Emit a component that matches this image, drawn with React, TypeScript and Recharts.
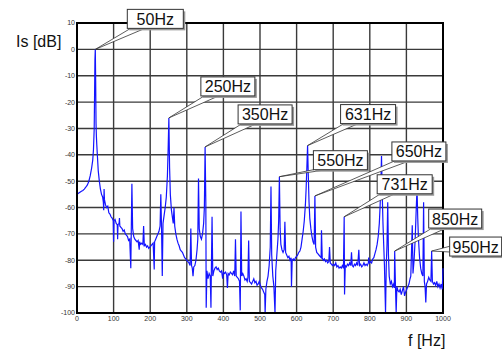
import React from 'react';
import { ComposedChart, Line, XAxis, YAxis, CartesianGrid, ReferenceDot, ReferenceArea } from 'recharts';

// spectrum, [frequency Hz, level dB]
const SPECTRUM_0_200: [number, number][] = [
  [0, -55], [4, -54.6], [8, -54.2], [12, -53.8], [16, -53.5], [20, -53], [24, -52.3], [28, -51.5],
  [32, -50.2], [36, -48], [40, -45], [43, -42], [45, -38], [47, -30], [48, -18], [49, -4], [50, 0],
  [51, -12], [52, -28], [53, -33], [54, -36], [56, -41], [58, -46], [61, -50], [64, -53], [67, -55],
  [70, -56], [72, -58], [73, -61], [74, -53], [75, -57], [78, -59], [81, -60], [84, -59.5], [87, -62],
  [90, -62.5], [93, -63.5], [96, -64], [99, -65], [100, -73], [101, -65], [104, -64.5], [107, -66],
  [110, -66.5], [111, -72], [112, -66.5], [115, -66], [116, -64], [117, -67], [120, -67.5], [123, -68],
  [126, -69], [129, -68.5], [132, -70], [135, -70.5], [138, -71], [141, -72.5], [144, -72], [147, -83],
  [148, -72], [150, -51], [152, -68], [155, -71], [158, -72], [161, -72.5], [164, -73], [167, -72.5],
  [170, -76], [171, -73], [174, -74], [177, -73.5], [180, -74], [182, -67], [184, -74.5], [187, -74],
  [190, -75], [193, -74.5], [196, -75.5], [199, -75],
];

const SPECTRUM_200_400: [number, number][] = [
  [202, -74.5], [205, -74], [208, -73.5], [211, -83.5], [212, -73], [215, -72], [218, -71], [221, -70],
  [224, -69], [227, -67], [229, -55], [231, -68], [233, -86], [235, -66], [238, -63], [241, -60],
  [244, -56], [247, -48], [249, -38], [251, -26], [253, -45], [255, -55], [258, -61], [261, -64],
  [263, -66], [265, -60], [267, -67], [270, -70], [273, -72], [276, -73.5], [279, -74.5], [282, -76],
  [285, -76.5], [288, -77], [291, -78], [294, -79], [297, -79.5], [300, -80], [303, -80.5], [306, -81],
  [309, -82], [311, -68], [313, -82], [315, -83], [317, -86], [319, -82.5], [322, -82], [325, -80],
  [328, -76], [330, -72], [332, -49], [334, -68], [337, -71], [340, -72], [343, -70], [346, -66],
  [348, -60], [350, -37], [352, -58], [353, -98], [355, -84], [358, -87], [361, -85], [364, -86],
  [366, -98], [367, -85], [369, -63.5], [371, -86], [374, -84], [377, -83], [380, -82.5], [383, -83.5],
  [386, -83], [389, -84], [392, -84.5], [395, -84], [398, -87], [400, -84.5],
];

const SPECTRUM_400_600: [number, number][] = [
  [403, -85], [406, -84.5], [409, -85.5], [411, -90.5], [413, -85], [416, -85.5], [419, -84.5],
  [422, -85], [425, -85.5], [428, -84], [431, -86], [433, -72], [435, -86], [438, -86.5], [441, -87],
  [444, -88], [446, -99], [448, -61.5], [450, -86], [453, -85], [456, -86], [459, -87.5], [462, -87],
  [465, -88], [467, -86.5], [469, -72.5], [471, -88], [474, -88.5], [477, -89], [480, -88], [483, -87],
  [486, -88.5], [489, -88], [492, -89.5], [495, -89], [498, -88], [501, -89.5], [504, -90.5], [507, -91],
  [510, -92], [513, -93], [514, -100], [516, -91], [519, -88], [522, -86], [525, -82], [528, -75],
  [530, -52], [532, -78], [535, -86], [538, -90], [541, -100], [543, -84], [546, -78], [549, -72],
  [551, -65], [553, -48.3], [555, -68], [557, -74], [560, -76], [563, -77], [566, -76], [568, -65.4],
  [570, -77], [573, -78], [576, -79], [579, -78.5], [582, -80], [585, -79], [586, -90], [588, -80],
  [591, -79.5], [594, -80], [597, -79], [600, -78.5],
];

const SPECTRUM_600_800: [number, number][] = [
  [603, -78], [606, -77], [609, -76.5], [612, -75], [615, -72], [618, -69], [621, -65], [624, -59],
  [626, -53], [628, -45], [630, -36.5], [632, -48], [634, -58], [636, -64], [639, -68], [642, -71],
  [645, -73], [648, -74], [650, -55.6], [652, -75], [655, -77], [658, -77.5], [661, -78], [664, -78.5],
  [667, -79], [668, -68.6], [670, -79], [673, -80], [676, -79.5], [679, -80.5], [682, -80], [685, -81],
  [688, -80.5], [690, -75], [692, -81], [695, -81.5], [698, -82], [701, -81.5], [704, -82], [707, -81],
  [710, -82.5], [713, -82], [716, -83], [719, -82.5], [722, -83], [725, -82], [728, -83], [730, -63.5],
  [731, -93], [733, -82], [736, -82.5], [739, -81.5], [742, -82], [745, -81], [748, -82], [750, -77],
  [752, -82], [755, -82.5], [758, -81.5], [761, -82], [764, -81], [767, -82], [770, -76], [772, -82],
  [775, -81.5], [778, -82.5], [781, -82], [784, -81], [787, -82], [790, -81.5], [793, -82], [796, -81],
  [797, -79], [799, -81],
];

const SPECTRUM_800_1000: [number, number][] = [
  [802, -80.5], [805, -81], [808, -79.5], [811, -79], [814, -77.5], [817, -76], [820, -74], [823, -71],
  [826, -66], [828, -60], [830, -52], [832, -40.5], [834, -55], [836, -66], [838, -74], [840, -82],
  [843, -100], [845, -82], [847, -74], [849, -58], [851, -78], [853, -86], [856, -89], [859, -88],
  [862, -90], [865, -89], [867, -90.5], [868, -76.5], [870, -89], [872, -100], [874, -90], [877, -91.5],
  [880, -92], [883, -91], [886, -93], [889, -91.5], [892, -90], [895, -93.5], [898, -92], [901, -91],
  [904, -90], [907, -89], [910, -87], [912, -86], [916, -66.7], [918, -85], [921, -80], [924, -72],
  [926, -64], [929, -52.5], [931, -64], [933, -72], [936, -79], [939, -83], [942, -85], [945, -86],
  [947, -58], [949, -88], [951, -90], [953, -96], [955, -89], [958, -88], [961, -86.5], [964, -87.5],
  [967, -88], [969, -76.5], [971, -88], [974, -89], [977, -88.5], [980, -89.5], [983, -88], [986, -90],
  [989, -89], [992, -90.5], [995, -89], [998, -91], [1000, -83],
];

const X_TICKS = [0, 100, 200, 300, 400, 500, 600, 700, 800, 900, 1000];
const Y_TICKS = [-100, -90, -80, -70, -60, -50, -40, -30, -20, -10, 0, 10];

// labelled peaks
const PEAK_FREQS = [50, 251, 350, 553, 630, 650, 730, 868, 969];
const PEAK_LEVELS = [0, -26, -37, -48.3, -36.5, -55.6, -63.5, -76.5, -76.5];
const PEAK_LABELS = ['50Hz', '250Hz', '350Hz', '550Hz', '631Hz', '650Hz', '731Hz', '850Hz', '950Hz'];

// where each label box sits relative to its peak (px)
const BOX_LAYOUT = [
  { dx: 32, dy: -40, w: 56, side: 'bottom' },
  { dx: 32, dy: -41, w: 54, side: 'bottom' },
  { dx: 33, dy: -42, w: 54, side: 'bottom' },
  { dx: 34, dy: -26, w: 54, side: 'bottom' },
  { dx: 33, dy: -41, w: 55, side: 'bottom' },
  { dx: 77, dy: -54, w: 54, side: 'bottom' },
  { dx: 33, dy: -42, w: 55, side: 'bottom' },
  { dx: 34, dy: -42, w: 53, side: 'bottom' },
  { dx: 18, dy: -14, w: 52, side: 'left' },
];

const data = [
  ...SPECTRUM_0_200,
  ...SPECTRUM_200_400,
  ...SPECTRUM_400_600,
  ...SPECTRUM_600_800,
  ...SPECTRUM_800_1000,
].map(([f, db]) => ({ f, db }));

const FONT = 'Arial, "Liberation Sans", sans-serif';

function Callout({ cx, cy, label, layout }: any) {
  const h = 19;
  const bx = cx + layout.dx;
  const by = cy + layout.dy;
  const wedge =
    layout.side === 'left'
      ? `${cx},${cy} ${bx + 1},${by + h - 10} ${bx + 1},${by + h - 4}`
      : `${cx},${cy} ${bx + 5},${by + h - 1} ${bx + 20},${by + h - 1}`;
  return (
    <g>
      <polygon points={wedge} fill="#fff" stroke="#333" strokeWidth={0.8} />
      <rect x={bx + 2} y={by + 2} width={layout.w} height={h} fill="#9a9a9a" />
      <rect x={bx} y={by} width={layout.w} height={h} fill="#fff" stroke="#333" strokeWidth={1} />
      <text
        x={bx + layout.w / 2}
        y={by + h / 2 + 6}
        textAnchor="middle"
        fontSize={16}
        fontFamily={FONT}
        fill="#111"
      >
        {label}
      </text>
    </g>
  );
}

export default function App() {
  return (
    <div style={{ position: 'absolute', left: 0, top: 0, width: 502, height: 351, background: '#fff' }}>
      <ComposedChart
        width={502}
        height={351}
        data={data}
        margin={{ top: 23, right: 59, left: 0, bottom: 18 }}
        style={{ fontFamily: FONT }}
      >
        <CartesianGrid stroke="#3a3a3a" strokeWidth={1.4} />
        <XAxis
          type="number"
          dataKey="f"
          domain={[0, 1000]}
          ticks={X_TICKS}
          height={20}
          tickSize={0}
          tickMargin={3}
          axisLine={{ stroke: '#000', strokeWidth: 2 }}
          tick={{ fontSize: 7, fill: '#333' }}
        />
        <YAxis
          type="number"
          domain={[-100, 10]}
          ticks={Y_TICKS}
          width={77}
          tickSize={0}
          tickMargin={2}
          axisLine={{ stroke: '#000', strokeWidth: 2 }}
          tick={{ fontSize: 7, fill: '#333' }}
        />
        <ReferenceArea x1={0} x2={1000} y1={-100} y2={10} fill="none" stroke="#000" strokeWidth={2} ifOverflow="visible" />
        <Line
          type="linear"
          dataKey="db"
          stroke="#1414ff"
          strokeWidth={1.2}
          dot={false}
          isAnimationActive={false}
        />
        {PEAK_FREQS.map((f, i) => (
          <ReferenceDot
            key={PEAK_LABELS[i]}
            x={f}
            y={PEAK_LEVELS[i]}
            ifOverflow="visible"
            shape={(p: any) => <Callout cx={p.cx} cy={p.cy} label={PEAK_LABELS[i]} layout={BOX_LAYOUT[i]} />}
          />
        ))}
      </ComposedChart>
      <div style={{ position: 'absolute', left: 16, top: 34, fontFamily: FONT, fontSize: 16, lineHeight: '16px', color: '#111' }}>
        Is [dB]
      </div>
      <div style={{ position: 'absolute', left: 408, top: 333, fontFamily: FONT, fontSize: 16, lineHeight: '16px', color: '#111' }}>
        f [Hz]
      </div>
    </div>
  );
}
